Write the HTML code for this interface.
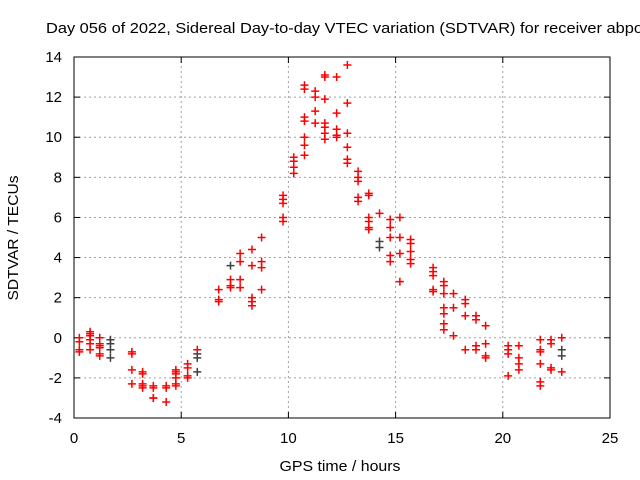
<!DOCTYPE html>
<html><head><meta charset="utf-8"><style>
body{margin:0;background:#fff;}
svg{display:block;font-family:"Liberation Sans",sans-serif;}
</style></head><body>
<svg id="chart" width="640" height="480">
<text x="46" y="33" font-size="15" textLength="597" lengthAdjust="spacingAndGlyphs">Day 056 of 2022, Sidereal Day-to-day VTEC variation (SDTVAR) for receiver abpo</text>
<text transform="translate(18,238) rotate(-90)" text-anchor="middle" font-size="15" textLength="125" lengthAdjust="spacingAndGlyphs">SDTVAR / TECUs</text>
<text x="340" y="471" text-anchor="middle" font-size="15" textLength="121" lengthAdjust="spacingAndGlyphs">GPS time / hours</text>
<g id="grid"></g><g id="ticks"></g><g id="marks"></g>
<rect x="74" y="57" width="536" height="361" fill="none" stroke="#000" stroke-width="1"/>
</svg>
<script>
const xTicks=[0,5,10,15,20,25];
const yTicks=[-4,-2,0,2,4,6,8,10,12,14];
const redX=[0.25,0.25,0.25,0.25,0.75,0.75,0.75,0.75,0.75,0.75,1.2,1.2,1.2,1.2,1.2,1.2,2.7,2.7,2.7,2.7,3.2,3.2,3.2,3.2,3.2,3.7,3.7,3.7,3.7,4.3,4.3,4.3,4.75,4.75,4.75,4.75,4.75,4.75,5.3,5.3,5.3,5.3,5.75,6.75,6.75,6.75,7.3,7.3,7.3,7.75,7.75,7.75,7.75,8.3,8.3,8.3,8.3,8.3,8.75,8.75,8.75,8.75,9.75,9.75,9.75,9.75,9.75,10.25,10.25,10.25,10.25,10.75,10.75,10.75,10.75,10.75,10.75,10.75,11.25,11.25,11.25,11.25,11.7,11.7,11.7,11.7,11.7,11.7,11.7,12.25,12.25,12.25,12.25,12.25,12.75,12.75,12.75,12.75,12.75,12.75,13.25,13.25,13.25,13.25,13.25,13.75,13.75,13.75,13.75,13.75,13.75,14.25,14.75,14.75,14.75,14.75,14.75,15.2,15.2,15.2,15.2,15.7,15.7,15.7,15.7,15.7,16.75,16.75,16.75,16.75,16.75,17.25,17.25,17.25,17.25,17.25,17.25,17.25,17.7,17.7,17.7,18.25,18.25,18.25,18.25,18.75,18.75,18.75,18.75,19.2,19.2,19.2,19.2,20.25,20.25,20.25,20.25,20.75,20.75,20.75,20.75,21.75,21.75,21.75,21.75,21.75,21.75,22.25,22.25,22.25,22.25,22.75,22.75];
const redY=[0,-0.2,-0.6,-0.7,0.3,0.2,-0.1,-0.3,-0.6,0.1,0,-0.3,-0.4,-0.8,-0.9,-0.5,-0.8,-0.7,-1.6,-2.3,-1.7,-1.8,-2.3,-2.4,-2.5,-2.4,-2.5,-3.0,-3.0,-2.4,-2.5,-3.2,-1.6,-1.7,-2.0,-2.3,-2.4,-1.8,-1.3,-1.5,-1.9,-2.0,-0.6,2.4,1.9,1.8,2.9,2.6,2.5,4.2,3.8,2.9,2.5,4.4,3.6,2.0,1.8,1.6,5.0,3.8,3.5,2.4,7.1,6.9,6.7,6.0,5.8,9.0,8.8,8.5,8.2,12.6,12.4,11.0,10.8,10.0,9.6,9.1,12.3,12.0,11.3,10.7,13.1,13.0,11.9,10.7,10.5,10.2,9.9,13.0,11.2,10.4,10.1,10.0,13.6,11.7,10.2,9.5,8.9,8.7,8.3,8.0,7.8,7.0,6.8,7.2,7.1,6.0,5.8,5.5,5.4,6.2,5.9,5.5,5.0,4.1,3.8,6.0,5.0,4.2,2.8,4.9,4.7,4.3,3.9,3.7,3.5,3.3,3.1,2.4,2.3,2.8,2.6,2.2,1.5,1.2,0.7,0.4,2.2,1.5,0.1,1.9,1.7,1.1,-0.6,1.1,0.9,-0.4,-0.6,0.6,-0.3,-0.9,-1.0,-0.4,-0.6,-0.8,-1.9,-0.4,-1.0,-1.3,-1.6,-0.1,-0.6,-0.7,-1.3,-2.2,-2.4,-0.1,-0.3,-1.5,-1.6,0,-1.7];
const darkX=[1.7,1.7,1.7,1.7,5.75,5.75,5.75,7.3,14.25,14.25,22.75,22.75];
const darkY=[-0.1,-0.3,-0.6,-1.0,-0.8,-1.0,-1.7,3.6,4.8,4.5,-0.6,-0.9];
const NS="http://www.w3.org/2000/svg";
const X0=74,X1=610,Y0=418,Y1=57;
function sx(v){return X0+(v-0)/(25-0)*(X1-X0);}
function sy(v){return Y0-(v-(-4))/(14-(-4))*(Y0-Y1);}
function mk(tag,attrs,parent){const e=document.createElementNS(NS,tag);for(const k in attrs)e.setAttribute(k,attrs[k]);parent.appendChild(e);return e;}
const grid=document.getElementById('grid'),ticks=document.getElementById('ticks'),marks=document.getElementById('marks');
xTicks.forEach(v=>{const x=sx(v);
 if(v>0&&v<25){const g=mk('line',{x1:x,x2:x,y1:Y0,y2:Y1,stroke:'#a0a0a0','stroke-dasharray':'2,3'},grid);
 
 }
 mk('line',{x1:x,x2:x,y1:Y0,y2:Y0-6,stroke:'#000'},ticks);mk('line',{x1:x,x2:x,y1:Y1,y2:Y1+6,stroke:'#000'},ticks);
 const t=mk('text',{x:x,y:443,'text-anchor':'middle','font-size':'15'},ticks);t.textContent=v;
 
 });
yTicks.forEach(v=>{const y=sy(v);
 if(v>-4&&v<14){const g=mk('line',{x1:X0,x2:X1,y1:y,y2:y,stroke:'#a0a0a0','stroke-dasharray':'2,3'},grid);
 
 }
 mk('line',{x1:X0,x2:X0+6,y1:y,y2:y,stroke:'#000'},ticks);mk('line',{x1:X1,x2:X1-6,y1:y,y2:y,stroke:'#000'},ticks);
 const t=mk('text',{x:62,y:y+5,'text-anchor':'end','font-size':'15'},ticks);t.textContent=v;
 
 });
function plus(xs,ys,col,name){for(let i=0;i<xs.length;i++){const x=sx(xs[i]),y=sy(ys[i]);
 const p=mk('path',{d:`M${x-4},${y}H${x+4}M${x},${y-4}V${y+4}`,stroke:col,'stroke-width':'1.5',fill:'none'},marks);
 
 }}
plus(darkX,darkY,'#404040','sdtvar-point-dark');
plus(redX,redY,'#ff0000','sdtvar-point');
</script>
</body></html>
